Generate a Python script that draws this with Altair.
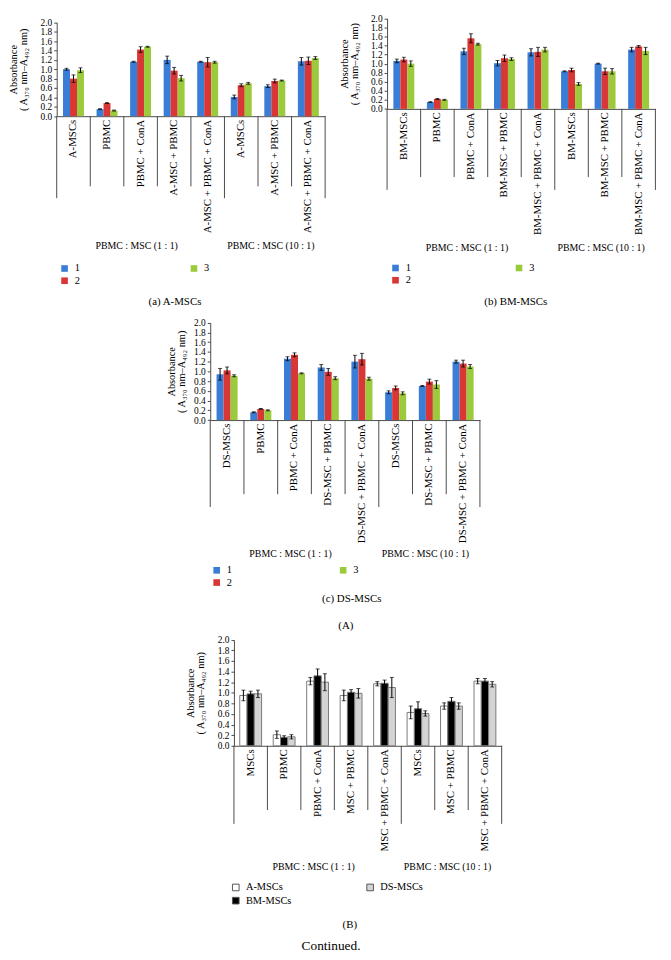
import json
import altair as alt
import pandas as pd

# ---------------- data ----------------
SERIES_ABC = ["1", "2", "3"]
COLORS_ABC = ["#3a7dd6", "#d93636", "#9bcb3c"]

SERIES_B = ["A-MSCs", "BM-MSCs", "DS-MSCs"]
COLORS_B = ["#ffffff", "#000000", "#d4d4d4"]

GROUPS = ["PBMC : MSC (1 : 1)", "PBMC : MSC (10 : 1)"]
GROUP_CENTERS = [2, 6]
GROUP_STARTS = [0, 5]
INNER_SEPS = [1, 2, 3, 4, 6, 7]
Y_TICKS = [0.0, 0.2, 0.4, 0.6, 0.8, 1.0, 1.2, 1.4, 1.6, 1.8, 2.0]
Y_TITLE = ["Absorbance", "( A₃₇₀ nm–A₄₉₂ nm)"]

CATS_A = ["A-MSCs", "PBMC", "PBMC + ConA", "A-MSC + PBMC", "A-MSC + PBMC + ConA",
          "A-MSCs", "A-MSC + PBMC", "A-MSC + PBMC + ConA"]
A_1 = [1.00, 0.15, 1.16, 1.20, 1.16, 0.41, 0.64, 1.17]
A_1E = [0.02, 0.01, 0.01, 0.08, 0.01, 0.04, 0.03, 0.08]
A_2 = [0.80, 0.28, 1.42, 0.97, 1.15, 0.66, 0.75, 1.18]
A_2E = [0.08, 0.01, 0.06, 0.07, 0.10, 0.03, 0.04, 0.08]
A_3 = [0.98, 0.12, 1.48, 0.81, 1.15, 0.70, 0.76, 1.24]
A_3E = [0.05, 0.01, 0.01, 0.06, 0.02, 0.02, 0.01, 0.03]

CATS_BM = ["BM-MSCs", "PBMC", "PBMC + ConA", "BM-MSC + PBMC", "BM-MSC + PBMC + ConA",
           "BM-MSCs", "BM-MSC + PBMC", "BM-MSC + PBMC + ConA"]
BM_1 = [1.06, 0.15, 1.27, 1.01, 1.25, 0.83, 1.00, 1.31]
BM_1E = [0.04, 0.01, 0.07, 0.06, 0.08, 0.01, 0.01, 0.05]
BM_2 = [1.09, 0.22, 1.56, 1.12, 1.26, 0.86, 0.83, 1.38]
BM_2E = [0.05, 0.01, 0.10, 0.07, 0.10, 0.04, 0.07, 0.02]
BM_3 = [1.00, 0.20, 1.43, 1.10, 1.31, 0.55, 0.83, 1.28]
BM_3E = [0.06, 0.01, 0.02, 0.03, 0.05, 0.03, 0.06, 0.08]

CATS_DS = ["DS-MSCs", "PBMC", "PBMC + ConA", "DS-MSC + PBMC", "DS-MSC + PBMC + ConA",
           "DS-MSCs", "DS-MSC + PBMC", "DS-MSC + PBMC + ConA"]
DS_1 = [0.94, 0.16, 1.26, 1.08, 1.20, 0.57, 0.70, 1.20]
DS_1E = [0.12, 0.01, 0.04, 0.06, 0.13, 0.03, 0.01, 0.03]
DS_2 = [1.02, 0.23, 1.34, 0.99, 1.25, 0.66, 0.79, 1.16]
DS_2E = [0.07, 0.01, 0.04, 0.07, 0.12, 0.04, 0.05, 0.07]
DS_3 = [0.91, 0.20, 0.96, 0.86, 0.85, 0.55, 0.73, 1.10]
DS_3E = [0.02, 0.01, 0.01, 0.03, 0.03, 0.03, 0.08, 0.04]

CATS_ALL = ["MSCs", "PBMC", "PBMC + ConA", "MSC + PBMC", "MSC + PBMC + ConA",
            "MSCs", "MSC + PBMC", "MSC + PBMC + ConA"]
ALL_A = [0.95, 0.21, 1.22, 0.95, 1.17, 0.63, 0.75, 1.22]
ALL_AE = [0.10, 0.07, 0.07, 0.10, 0.04, 0.12, 0.06, 0.05]
ALL_BM = [0.98, 0.16, 1.32, 1.01, 1.18, 0.70, 0.84, 1.22]
ALL_BME = [0.05, 0.03, 0.13, 0.05, 0.06, 0.13, 0.07, 0.05]
ALL_DS = [0.98, 0.17, 1.20, 0.99, 1.10, 0.61, 0.75, 1.16]
ALL_DSE = [0.07, 0.04, 0.16, 0.09, 0.19, 0.05, 0.06, 0.05]

CAPTIONS = ["(a) A-MSCs", "(b) BM-MSCs", "(c) DS-MSCs", "(A)", "(B)", "Continued."]

# ---------------- layout ----------------
W, H = 663, 952
FONT = "Liberation Serif"
AXIS_COLOR = "#4a4a4a"
CAT_FS = 11

GEOM = {
    "a": dict(x0=49.3, x1=321.0, y0=8.7, y1=103.7, short=71, long=83, gy=235,
              lx=52.0, ly=252.5, colpad=110, tx=-49, pad=0.9),
    "b": dict(x0=383.7, x1=655.3, y0=4.7, y1=96.3, short=69, long=82, gy=237,
              lx=387.0, ly=252.0, colpad=104, tx=-48, pad=0.9),
    "c": dict(x0=204.7, x1=477.7, y0=312.7, y1=411.3, short=75, long=88, gy=547,
              lx=206.0, ly=558.0, colpad=107, tx=-44.5, pad=0.9),
    "B": dict(x0=228.7, x1=499.7, y0=633.7, y1=741.0, short=65, long=79, gy=864,
              lx=225.3, ly=879.0, colpad=73, tx=-49, pad=0.8),
}


def build_panel(cats, series, values, errors, colors, g, bar_stroke=None, sym_stroke=0):
    rows = []
    for s, vals, errs in zip(series, values, errors):
        for i, (v, e) in enumerate(zip(vals, errs)):
            rows.append({"cat": i, "series": s, "value": v,
                         "lo": round(v - e, 3), "hi": round(v + e, 3)})
    df = pd.DataFrame(rows)

    x_scale = alt.Scale(domain=list(range(len(cats))), range=[g["x0"], g["x1"]],
                        paddingInner=0, paddingOuter=0)
    x_axis = alt.Axis(orient="bottom", offset=g["y1"] - H, title=None, ticks=False,
                      labelAngle=270, labelAlign="right", labelBaseline="middle",
                      labelPadding=3, labelExpr=json.dumps(cats) + "[datum.value]",
                      labelOverlap=False, labelFontSize=CAT_FS, labelColor="black",
                      labelLimit=400, domainColor=AXIS_COLOR, domainWidth=1)

    def X(bp=None):
        if bp is None:
            return alt.X("cat:O", scale=x_scale, axis=x_axis)
        return alt.X("cat:O", scale=x_scale, axis=x_axis, bandPosition=bp)

    xo = alt.XOffset("series:N", scale=alt.Scale(domain=series, paddingInner=0,
                                                 paddingOuter=g["pad"]))
    y_scale = alt.Scale(domain=[0, 2], range=[g["y1"], g["y0"]], nice=False, zero=True)
    y_axis = alt.Axis(orient="left", offset=-g["x0"], values=Y_TICKS, format=".1f",
                      title=Y_TITLE, titleX=g["tx"], titleY=(g["y0"] + g["y1"]) / 2,
                      titleAngle=270, titleAlign="center", titleBaseline="top",
                      titleFontSize=10.5, titleFontWeight="normal", titleLineHeight=10,
                      titleColor="black", labelFontSize=9.5, labelColor="black",
                      labelOverlap=False, labelBound=False, labelFlush=False,
                      tickSize=3, labelPadding=2, grid=False, domainColor=AXIS_COLOR,
                      tickColor=AXIS_COLOR)

    bar_kw = {}
    if bar_stroke:
        bar_kw = dict(stroke=bar_stroke, strokeWidth=1)
    bars = alt.Chart(df).mark_bar(**bar_kw).encode(
        x=X(), xOffset=xo,
        y=alt.Y("value:Q", scale=y_scale, axis=y_axis),
        color=alt.Color("series:N",
                        scale=alt.Scale(domain=series, range=colors),
                        legend=alt.Legend(orient="none", legendX=g["lx"], legendY=g["ly"],
                                          direction="vertical",
                                          columns=2, columnPadding=g["colpad"], rowPadding=1.5,
                                          title=None, symbolType="square", symbolSize=45,
                                          symbolStrokeWidth=sym_stroke,
                                          symbolStrokeColor="#555555",
                                          labelFontSize=10.5, labelColor="black",
                                          labelOffset=5, padding=0)),
    )
    err = alt.Chart(df).mark_rule(color="black", strokeWidth=1).encode(
        x=X(), xOffset=xo, y=alt.Y("lo:Q", scale=y_scale, axis=y_axis), y2="hi:Q")
    cap_lo = alt.Chart(df).mark_tick(color="black", size=4, thickness=1).encode(
        x=X(), xOffset=xo, y=alt.Y("lo:Q", scale=y_scale, axis=y_axis))
    cap_hi = alt.Chart(df).mark_tick(color="black", size=4, thickness=1).encode(
        x=X(), xOffset=xo, y=alt.Y("hi:Q", scale=y_scale, axis=y_axis))

    sep_inner = alt.Chart(pd.DataFrame({"cat": INNER_SEPS})).mark_rule(
        color=AXIS_COLOR, strokeWidth=1).encode(
        x=X(0), y=alt.value(g["y1"]), y2=alt.value(g["y1"] + g["short"]))
    sep_group = alt.Chart(pd.DataFrame({"cat": GROUP_STARTS})).mark_rule(
        color=AXIS_COLOR, strokeWidth=1).encode(
        x=X(0), y=alt.value(g["y1"]), y2=alt.value(g["y1"] + g["long"]))
    sep_end = alt.Chart(pd.DataFrame({"cat": [len(cats) - 1]})).mark_rule(
        color=AXIS_COLOR, strokeWidth=1).encode(
        x=X(1), y=alt.value(g["y1"]), y2=alt.value(g["y1"] + g["long"]))
    grp = alt.Chart(pd.DataFrame({"cat": GROUP_CENTERS, "label": GROUPS})).mark_text(
        fontSize=10, dx=-4, baseline="middle", color="black").encode(
        x=X(0.5), y=alt.value(g["gy"]), text="label:N")

    return alt.layer(bars, err, cap_lo, cap_hi, sep_inner, sep_group, sep_end, grp)


pa = build_panel(CATS_A, SERIES_ABC, [A_1, A_2, A_3], [A_1E, A_2E, A_3E],
                 COLORS_ABC, GEOM["a"])
pb = build_panel(CATS_BM, SERIES_ABC, [BM_1, BM_2, BM_3], [BM_1E, BM_2E, BM_3E],
                 COLORS_ABC, GEOM["b"])
pc = build_panel(CATS_DS, SERIES_ABC, [DS_1, DS_2, DS_3], [DS_1E, DS_2E, DS_3E],
                 COLORS_ABC, GEOM["c"])
pB = build_panel(CATS_ALL, SERIES_B, [ALL_A, ALL_BM, ALL_DS], [ALL_AE, ALL_BME, ALL_DSE],
                 COLORS_B, GEOM["B"], bar_stroke="#7a7a7a", sym_stroke=1)

CAPTION_POS = [(169, 292, 11), (514, 292, 11), (348, 592, 11), (342, 620, 11),
               (346, 922, 11), (327, 944, 13.5)]
captions = []
for text, (cx, cy, fs) in zip(CAPTIONS, CAPTION_POS):
    captions.append(
        alt.Chart(pd.DataFrame({"t": [text]})).mark_text(
            fontSize=fs, baseline="middle", align="center", color="black").encode(
            text="t:N", x=alt.value(cx), y=alt.value(cy)))

chart = alt.layer(pa, pb, pc, pB, *captions).resolve_scale(
    x="independent", y="independent", xOffset="independent", color="independent"
).properties(
    width=W, height=H, padding=0, autosize=alt.AutoSizeParams(type="none")
).configure(font=FONT).configure_view(stroke=None)

chart.save("out.html", embed_options={"renderer": "svg", "actions": False})
